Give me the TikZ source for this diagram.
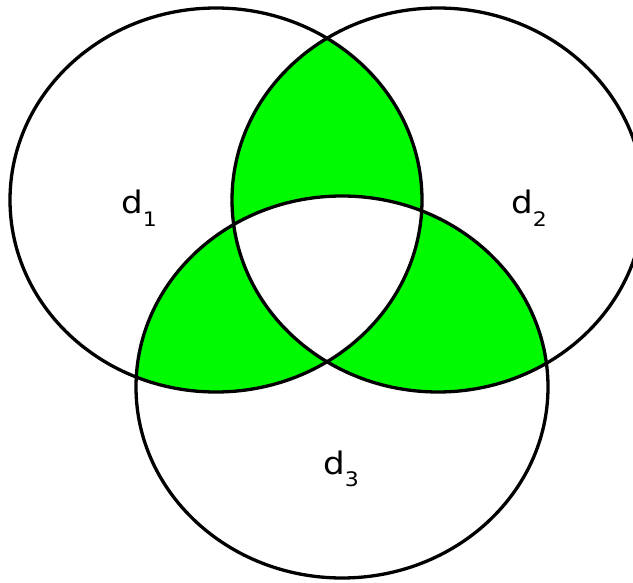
\documentclass[tikz,border=0pt]{standalone}
\usepackage{fontspec}
\setmainfont{DejaVu Sans}[FakeStretch=1.1]
\usepackage{tikz}
\definecolor{venngreen}{RGB}{0,250,0}

\begin{document}
\begin{tikzpicture}[x=1pt, y=-1pt,
  setline/.style={line width=3.3pt, black},
  setlabel/.style={anchor=base west, inner sep=0pt, font=\fontsize{31}{36}\selectfont}]
  \useasboundingbox (0,0) rectangle (633,583);
  \clip (0,0) rectangle (633,583);
  % centres of the three sets
  \coordinate (c1) at (216,200);
  \coordinate (c2) at (438,200);
  \coordinate (c3) at (342,387);
  % pairwise overlaps in green
  \begin{scope}
    \clip (c1) ellipse[x radius=206, y radius=192];
    \fill[venngreen] (c2) ellipse[x radius=206, y radius=192];
    \fill[venngreen] (c3) ellipse[x radius=206, y radius=191];
  \end{scope}
  \begin{scope}
    \clip (c2) ellipse[x radius=206, y radius=192];
    \fill[venngreen] (c3) ellipse[x radius=206, y radius=191];
  \end{scope}
  % common part of all three stays white
  \begin{scope}
    \clip (c1) ellipse[x radius=206, y radius=192];
    \clip (c2) ellipse[x radius=206, y radius=192];
    \fill[white] (c3) ellipse[x radius=206, y radius=191];
  \end{scope}
  % outlines
  \draw[setline] (c1) ellipse[x radius=206, y radius=192];
  \draw[setline] (c2) ellipse[x radius=206, y radius=192];
  \draw[setline] (c3) ellipse[x radius=206, y radius=191];
  % labels
  \node[setlabel] (d1) at (121,214) {d\raisebox{-13pt}{\fontsize{20}{24}\selectfont 1}};
  \node[setlabel] (d2) at (511,214) {d\raisebox{-13pt}{\fontsize{20}{24}\selectfont 2}};
  \node[setlabel] (d3) at (323,474) {d\raisebox{-13pt}{\fontsize{20}{24}\selectfont 3}};
\end{tikzpicture}
\end{document}
